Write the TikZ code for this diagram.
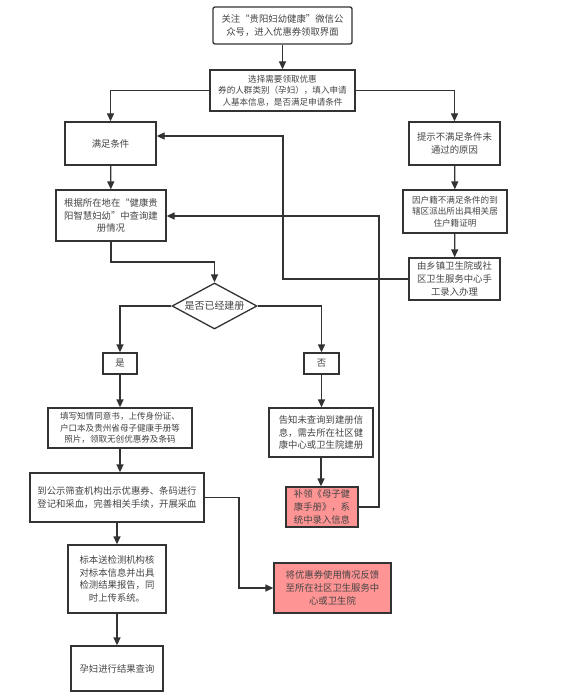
\documentclass[tikz,border=0pt]{standalone}
\usepackage{fontspec}
\setmainfont{Noto Sans CJK SC}
\usetikzlibrary{arrows.meta,shapes.geometric}
\definecolor{ln}{HTML}{333333}
\definecolor{tx}{HTML}{444444}
\definecolor{pk}{HTML}{FF9494}
\tikzset{
  box/.style={draw=ln, line width=1.3bp, fill=white, inner sep=1bp, align=center,
    font=\fontsize{9.4}{12.8}\selectfont, text=tx},
  smalltext/.style={font=\fontsize{8.6}{11.6}\selectfont},
  pinkbox/.style={box, fill=pk},
  dia/.style={draw=ln, line width=1.3bp, diamond, aspect=1.85, inner sep=0pt, align=center,
    font=\fontsize{10}{12}\selectfont, text=tx},
  arr/.style={draw=ln, line width=1.3bp, -{Triangle[length=8bp,width=7bp]}},
}
\begin{document}
\begin{tikzpicture}[x=1bp,y=-1bp]
\useasboundingbox (0,0) rectangle (566,700);
\fill[white] (0,0) rectangle (566,700);
\node[box, rounded corners=2bp, minimum width=139bp, minimum height=37bp] (b1) at (282.5,25.5) {关注“贵阳妇幼健康”微信公\\众号，进入优惠券领取界面};
\node[box, smalltext, minimum width=145bp, minimum height=41bp] (b2) at (282.5,90.5) {选择需要领取优惠\\券的人群类别（孕妇），填入申请\\人基本信息，是否满足申请条件};
\node[box, minimum width=91bp, minimum height=43bp] (b3) at (110.5,143.5) {满足条件};
\node[box, minimum width=91bp, minimum height=43bp] (b4) at (454.5,143.5) {提示不满足条件未\\通过的原因};
\node[box, minimum width=110bp, minimum height=51bp] (b5) at (111,215.5) {根据所在地在“健康贵\\阳智慧妇幼”中查询建\\册情况};
\node[box, smalltext, minimum width=104bp, minimum height=43bp] (b6) at (455,211.5) {因户籍不满足条件的到\\辖区派出所出具相关居\\住户籍证明};
\node[box, minimum width=91bp, minimum height=42bp] (b7) at (454.5,279) {由乡镇卫生院或社\\区卫生服务中心手\\工录入办理};
\node[dia, minimum width=85bp, minimum height=46bp] (d) at (214.5,306) {是否已经建册};
\node[box, minimum width=34bp, minimum height=21bp] (yes) at (120,363.5) {是};
\node[box, minimum width=35bp, minimum height=21bp] (no) at (321.5,363.5) {否};
\node[box, smalltext, minimum width=144bp, minimum height=40bp] (b8) at (120,428) {填写知情同意书，上传身份证、\\户口本及贵州省母子健康手册等\\照片，领取无创优惠券及条码};
\node[box, minimum width=174bp, minimum height=49bp] (b9) at (117,497.5) {到公示筛查机构出示优惠券、条码进行\\登记和采血，完善相关手续，开展采血};
\node[box, minimum width=104bp, minimum height=49bp] (b10) at (321,432.5) {告知未查询到建册信\\息，需去所在社区健\\康中心或卫生院建册};
\node[pinkbox, minimum width=72bp, minimum height=40bp] (b11) at (322,507) {补领《母子健\\康手册》，系\\统中录入信息};
\node[box, minimum width=98bp, minimum height=68bp] (b12) at (117,579) {标本送检测机构核\\对标本信息并出具\\检测结果报告，同\\时上传系统。};
\node[box, minimum width=92bp, minimum height=45bp] (b13) at (117,668.5) {孕妇进行结果查询};
\node[pinkbox, minimum width=117bp, minimum height=50bp] (fb) at (332.5,588) {将优惠券使用情况反馈\\至所在社区卫生服务中\\心或卫生院};
\coordinate (j1) at (283,136);
\coordinate (j2) at (111,262);
\coordinate (j3) at (379,216);
\coordinate (j4) at (239,588);
\draw[arr] (b1) -- (b2);
\draw[arr] (b2.west) -| (b3.north);
\draw[arr] (b2.east) -| (b4.north);
\draw[arr] (b4) -- (b6);
\draw[arr] (b6) -- (b7);
\draw[arr] (b7.west) -| (j1) -- (b3.east |- j1);
\draw[arr] (b3) -- (b5);
\draw[arr] (b5.south) -- (j2) -| (d.north);
\draw[arr] (d.west) -| (yes.north);
\draw[arr] (d.east) -| (no.north);
\draw[arr] (yes) -- (b8);
\draw[arr] (b8.south) -- (b8.south |- b9.north);
\draw[arr] (b9) -- (b12);
\draw[arr] (b12) -- (b13);
\draw[arr] (no) -- (no.south |- b10.north);
\draw[arr] (b10.south) -- (b10.south |- b11.north);
\draw[arr] (b11.east) -| (j3) -- (b5.east |- j3);
\draw[arr] (b9.east) -| (j4) -- (fb.west);
\end{tikzpicture}
\end{document}
